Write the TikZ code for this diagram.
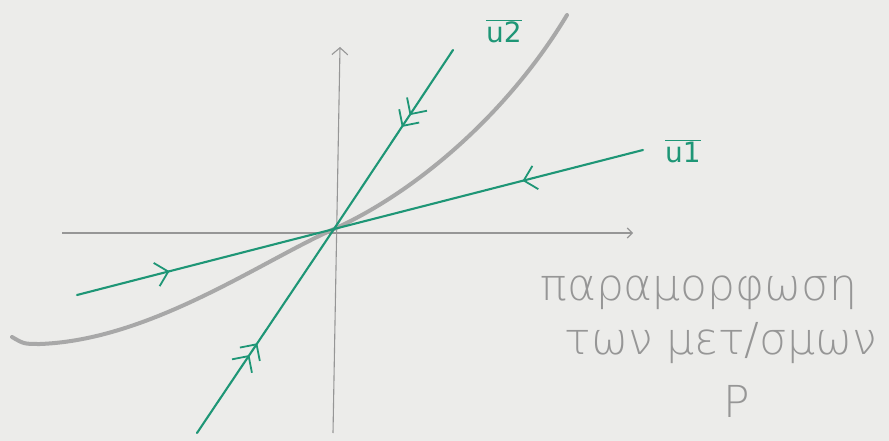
\documentclass[tikz,border=0pt]{standalone}
\usepackage{fontspec}
\newfontfamily\hand{DejaVuSans-ExtraLight}[Extension=.ttf]
\setsansfont{DejaVu Sans}
\usetikzlibrary{arrows.meta,decorations.markings}
\definecolor{vgreen}{RGB}{30,150,118}
\definecolor{axgray}{RGB}{150,150,150}
\definecolor{cgray}{RGB}{168,168,168}
\definecolor{tgray}{RGB}{150,150,150}
\definecolor{bggray}{RGB}{236,236,234}
\tikzset{
  vec/.style={draw=vgreen, line width=2.1pt, line cap=round},
  chev/.style={postaction={decorate, decoration={markings,
      mark=at position #1 with {\arrow[vgreen,line width=1.8pt]{Straight Barb[length=12pt,width=24pt]}}}}},
  dchev/.style={postaction={decorate, decoration={markings,
      mark=at position #1 with {\arrow[vgreen,line width=1.8pt]{Straight Barb[length=12pt,width=24pt] Straight Barb[length=12pt,width=24pt]}}}}},
  axis/.style={draw=axgray, line width=1.1pt},
  curvestyle/.style={draw=cgray, line width=4pt, line cap=round},
  hw/.style={text=tgray, font=\hand\fontsize{44}{50}\selectfont, inner sep=0pt},
  lab/.style={text=vgreen, font=\sffamily\fontsize{28}{32}\selectfont, inner sep=0pt}
}
\begin{document}
\begin{tikzpicture}[x=1pt,y=-1pt]
\fill[bggray] (0,0) rectangle (889,441);
\useasboundingbox (0,0) rectangle (889,441);
\coordinate (O) at (334,229);
\coordinate (XL) at (62,233);
\coordinate (XR) at (633,233);
\coordinate (YB) at (333,433);
\coordinate (YT) at (340,47);
\coordinate (CT) at (567,15);
\coordinate (CB) at (40,344);
\coordinate (CE) at (12,337);
\draw[axis, -{Straight Barb[length=5pt,width=10pt]}] (XL) -- (XR);
\draw[axis, -{Straight Barb[length=7pt,width=16pt]}] (YB) -- (YT);
\draw[curvestyle] (CE) .. controls (24,344) .. (CB) .. controls (150,340) and (260,262) .. (O) .. controls (420,190) and (510,110) .. (CT);
\coordinate (A1) at (77,295);
\coordinate (B1) at (643,150);
\coordinate (A2) at (197,433);
\coordinate (B2) at (453,50);
\draw[vec, chev=0.36] (A1) -- (O);
\draw[vec, chev=0.39] (B1) -- (O);
\draw[vec, dchev=0.44] (A2) -- (O);
\draw[vec, dchev=0.43] (B2) -- (O);
\node[lab] (l2) at (504,31) {$\overline{\hbox{u2}}$};
\node[lab] (l1) at (683,151) {$\overline{\hbox{u1}}$};
\node[hw] (t1) at (699,293) {παραμορφωση};
\node[hw] (t2) at (721,343) {των μετ/σμων};
\node[hw] (t3) at (737,401) {P};
\end{tikzpicture}
\end{document}
